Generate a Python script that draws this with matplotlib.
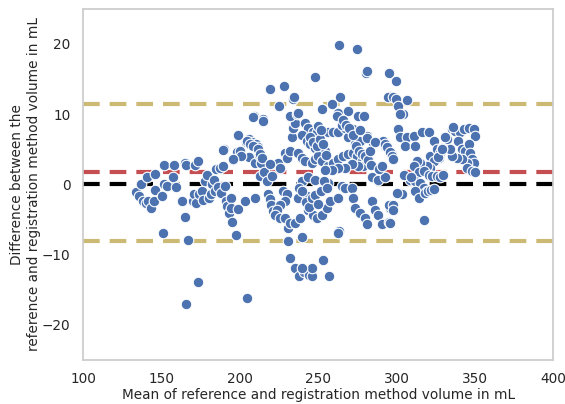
import numpy as np
import pandas as pd
import seaborn as sns
import matplotlib
matplotlib.use("Agg")
import matplotlib.pyplot as plt

# valores (media, diferencia) en mL
media = [
    134.1, 136.0, 136.9, 138.3, 139.9, 141.0, 141.5, 143.3, 145.2, 145.7, 146.1, 150.3, 151.4, 151.9,
    151.0, 153.7, 157.2, 157.9, 159.5, 163.0, 164.8, 165.3, 165.9, 165.9, 167.1, 169.9, 171.0, 172.2,
    171.7, 173.3, 173.3, 173.8, 175.6, 176.8,
    178.0, 179.0, 180.2, 181.4, 182.5, 183.7, 184.4, 184.9, 186.0, 187.6, 188.3, 189.5, 189.9, 190.6,
    191.3, 191.8, 192.9, 194.1, 194.5, 195.2, 195.9, 197.5, 198.2, 198.7, 198.7, 200.5, 203.3, 204.2,
    204.9, 205.6, 206.0, 207.9, 209.1, 209.8, 210.2, 209.8, 211.6, 212.5, 213.0, 213.7, 214.8, 215.5,
    217.1, 218.3, 219.0, 219.4, 219.9, 220.6, 221.3, 222.2,
    199.1, 204.4, 206.5, 208.6, 211.8, 212.9, 214.0, 189.5, 200.1, 200.6, 195.9, 208.6, 215.0,
    224.6, 225.7, 228.9, 229.9, 232.0, 233.1, 234.2, 235.2, 232.0, 236.3, 234.2, 219.3, 225.2, 228.0,
    227.8, 229.9, 228.9, 225.7, 223.5, 222.5, 225.7, 228.9, 231.0, 232.0, 235.2, 238.4,
    231.0, 232.0, 235.2, 238.0, 241.0, 244.0, 246.0, 257.0, 240.0, 248.0, 263.3, 274.8, 280.5, 281.5,
    295.5, 300.0, 296.0, 263.2, 234.4, 252.4, 253.0,
    264.0, 294.9, 258.7, 263.0, 269.3, 275.7, 237.4, 252.3,
    241.7, 243.8, 247.0, 249.1, 239.6, 242.7, 244.9, 248.1, 251.3, 254.4, 256.6, 259.8, 263.0, 267.2,
    272.5, 269.3, 273.6, 276.8, 281.0, 285.3, 291.7, 297.0, 292.7,
    237.4, 239.6, 241.7, 246.0, 248.1, 250.2, 252.3, 256.6, 259.8, 263.0, 266.2, 269.3, 272.5, 274.7,
    277.9, 278.9, 275.7, 271.5, 267.2, 263.0, 258.7, 254.4,
    239.6, 243.8, 248.1, 256.6, 265.1, 267.2, 271.5, 284.2, 288.5, 292.7,
    237.4, 242.7, 243.8, 247.0, 249.1, 252.3, 255.5, 257.6, 263.0, 272.5, 273.6, 276.8, 280.0, 281.0,
    284.2, 286.4, 288.5, 290.6, 295.9, 263.0, 253.4, 246.0, 239.6,
    238.0, 240.0, 242.0, 244.0, 246.0, 248.0, 250.0, 252.0, 254.0, 256.0,
    245.0, 247.0, 249.0, 251.0, 253.0, 255.0, 250.0, 252.0,
    262.0, 265.0, 266.0, 268.0, 270.0, 272.0, 274.0, 276.0, 278.0, 280.0, 282.0, 284.0, 279.0, 277.0,
    281.0, 283.0, 286.0, 289.0, 291.0, 293.0, 294.0, 296.0, 297.0, 298.0, 295.0, 298.0, 295.5,
    298.1, 301.3, 306.6, 304.1, 300.0, 301.0, 302.0,
    301.3, 302.4, 306.6, 310.9, 305.6, 312.0, 316.2, 320.5, 323.7, 321.5, 325.8, 327.9, 332.2, 335.4,
    337.5, 340.7, 342.8, 346.0, 349.2, 350.3, 339.6, 341.7, 343.9, 346.0, 347.1, 348.1, 349.2, 344.9,
    341.7, 338.6, 335.4, 334.3, 329.0, 326.9, 323.7, 321.5, 319.4, 315.1, 313.0, 310.9, 314.1, 317.3,
    320.5, 322.6, 325.8, 327.9, 330.0, 344.9, 348.1, 350.3,
    308.8, 312.0, 315.1, 317.3, 319.4, 321.5, 302.4, 303.4, 312.0, 314.1, 298.1, 296.0, 317.3,
    300.1, 304.7, 309.3, 326.7, 329.0, 331.3, 335.9, 318.5, 320.0, 322.0, 324.0,
]
diferencia = [
    -1.1, -1.7, 0.0, -2.4, -2.7, 1.0, -2.4, -3.3, -2.4, 1.5, -0.8, -1.6, 0.1, 2.7,
    -6.9, -0.2, 1.0, 2.7, -0.4, -2.4, -4.7, 3.0, 2.7, -17.0, -7.9, -2.3, -1.3, -2.7,
    2.8, 3.3, -13.9, -1.3, -1.0, -2.2,
    0.5, 1.3, -1.9, -1.3, 0.0, 0.7, -1.0, 2.2, -0.4, 2.4, -1.2, 2.6, 5.0, -0.2,
    -2.4, -3.1, -4.1, -1.9, -3.3, -5.3, 3.5, -7.2, 4.6, -3.5, 7.1, 4.1, -2.4, 6.0,
    -16.2, 6.5, 3.9, 6.1, 9.7, 3.0, 5.7, -2.0, 5.3, 4.2, 1.2, 3.0, 9.3, 1.8,
    0.5, -1.3, -2.1, 13.6, -2.9, 1.2, -3.8, -4.3,
    7.1, 6.2, 5.7, 5.5, 5.0, 4.3, 3.8, 4.9, 4.8, 4.0, 3.6, 9.6, 9.0,
    3.1, 2.4, 4.5, 3.8, 4.8, 6.7, 8.1, 8.8, 9.8, 10.0, 12.1, 2.9, 11.1, 14.0,
    -1.0, -1.4, -2.4, -2.9, -3.6, -4.3, -4.8, -4.8, -6.2, -5.5, -5.5, -4.8,
    -8.1, -10.5, -11.9, -13.1, -12.5, -12.9, -13.1, -13.0, -7.5, 15.3, 19.8, 19.3, 15.9, 16.1,
    15.8, 14.7, 12.6, -6.7, 12.4, 10.8, -10.8,
    12.4, 12.4, 11.4, 10.2, 10.5, 9.8, 10.2, 10.7,
    8.8, 8.1, 7.4, 7.4, 7.1, 6.2, 5.7, 5.2, 4.8, 4.8, 7.4, 7.4, 7.4, 8.1,
    7.9, 6.7, 5.7, 6.2, 6.9, 5.9, 6.2, 4.3, 5.5,
    4.5, 3.8, 3.3, 3.1, 3.6, 4.0, 3.3, 2.6, 3.1, 3.6, 4.0, 4.3, 4.5, 4.0,
    3.3, 2.6, 2.6, 2.9, 2.4, 2.4, 2.1, 2.1,
    0.5, 1.0, 0.7, 0.2, -0.2, -0.5, -0.5, 1.0, 0.7, 1.0,
    -1.9, -1.7, -3.6, -4.3, -4.8, -4.3, -3.3, -2.4, -1.9, -1.9, -3.3, -4.0, -4.8, -5.7,
    -2.4, -3.6, -4.3, -5.7, -3.3, -6.9, -10.7, -11.9, -11.9,
    -0.5, -1.0, -2.5, -3.2, -2.0, -1.5, -2.8, -1.0, 0.5, -0.5,
    6.8, 6.0, 5.5, 6.5, 5.8, 4.2, 8.3, 7.8,
    9.8, 8.5, 9.2, 8.5, 8.0, 7.0, 5.5, 4.8, 4.4, 4.0, 3.5, 2.8, 9.8, 7.8,
    6.6, 4.7, 6.1, 2.2, 2.6, 5.8, 5.4, 4.6, 4.1, 3.6, -3.0, -3.0, -5.3,
    12.4, 11.9, 12.0, 10.0, 12.1, 11.2, 10.1,
    7.9, 6.7, 6.7, 6.9, 5.5, 5.5, 7.4, 7.4, 6.2, 4.0, 5.0, 4.5, 6.4, 7.9,
    7.6, 7.4, 7.9, 8.1, 7.9, 6.9, 6.2, 5.0, 4.8, 5.7, 4.5, 3.6, 3.1, 3.1,
    3.6, 3.8, 4.0, 5.0, 5.2, 3.8, 3.3, 2.4, 2.6, 3.1, 3.3, 2.6, 1.7, 1.9,
    1.4, 1.2, 1.2, 1.0, 1.4, 2.4, 1.9, 1.7,
    0.7, 0.5, 0.2, -0.5, -1.0, -1.0, -1.2, -1.4, -1.0, -1.9, -3.6, -5.5, -5.0,
    -1.2, 1.4, 1.0, 3.9, 5.1, 6.7, 8.2, -1.2, -1.0, -0.8, -0.6,
]

sesgo = 1.7
limite_sup = 11.4
limite_inf = -8.1

df = pd.DataFrame({"media": media, "diferencia": diferencia})

sns.set_theme(style="whitegrid")
fig, ax = plt.subplots(figsize=(5.65, 4.04), dpi=100)
sns.scatterplot(data=df, x="media", y="diferencia", s=58, color="#4c72b0",
                edgecolor="white", linewidth=0.8, ax=ax, zorder=3)
ax.axhline(0, color="black", ls="--", lw=3, dashes=(4, 2.4), zorder=2)
ax.axhline(sesgo, color="#c44e52", ls="--", lw=3, dashes=(4, 2.4), zorder=2)
ax.axhline(limite_sup, color="#ccb974", ls="--", lw=3, dashes=(4, 2.4), zorder=2)
ax.axhline(limite_inf, color="#ccb974", ls="--", lw=3, dashes=(4, 2.4), zorder=2)

ax.grid(False)
ax.set_xlim(100, 400)
ax.set_ylim(-25, 25)
ax.set_xticks(range(100, 401, 50))
ax.set_yticks([-20, -10, 0, 10, 20])
ax.tick_params(labelsize=9.8, pad=3)
ax.set_xlabel("Mean of reference and registration method volume in mL", fontsize=9.8, labelpad=1)
ax.set_ylabel("Difference between the\nreference and registration method volume in mL",
              fontsize=9.8, labelpad=1)

fig.subplots_adjust(left=0.147, right=0.979, top=0.978, bottom=0.109)
fig.savefig("out.png", dpi=100)
